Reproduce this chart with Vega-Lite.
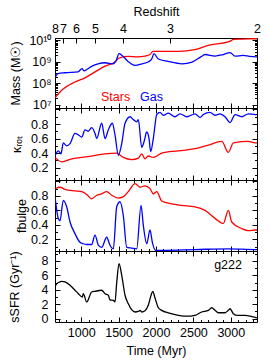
{
  "$schema": "https://vega.github.io/schema/vega-lite/v6.json",
  "padding": {"left": 7, "top": 4, "right": 5, "bottom": 5},
  "spacing": 0,
  "bounds": "flush",
  "config": {
    "font": "Liberation Sans",
    "view": {"stroke": "black", "strokeWidth": 1},
    "axis": {"labelFont": "Liberation Sans", "labelFontSize": 12.5, "labelColor": "black", "titleFont": "Liberation Sans", "titleFontSize": 12.5, "titleFontWeight": "normal", "titleColor": "black", "domain": false, "grid": false, "tickColor": "black", "tickWidth": 1, "labelOverlap": false, "labelFlush": false, "labelBound": false}
  },
  "datasets": {
    "starsMass": [
      {"t":650,"m":2.1e7},{"t":740,"m":4.7e7},{"t":917,"m":1.15e8},{"t":1051,"m":1.8e8},{"t":1185,"m":3.4e8},{"t":1319,"m":6.3e8},{"t":1430,"m":8.9e8},{"t":1452,"m":1.0e9},{"t":1492,"m":1.4e9},{"t":1542,"m":1.65e9},{"t":1626,"m":1.8e9},{"t":1760,"m":1.7e9},{"t":1853,"m":1.85e9},{"t":1920,"m":2.2e9},{"t":1960,"m":3.1e9},{"t":2100,"m":3.1e9},{"t":2295,"m":3.1e9},{"t":2522,"m":3.7e9},{"t":2696,"m":5.9e9},{"t":2963,"m":8.5e9},{"t":3000,"m":9.5e9},{"t":3030,"m":1.12e10},{"t":3150,"m":1.15e10},{"t":3324,"m":1.2e10},{"t":3350,"m":1.2e10}
    ],
    "gasMass": [
      {"t":650,"m":1.8e8},{"t":690,"m":2.8e8},{"t":784,"m":3.1e8},{"t":958,"m":3.4e8},{"t":1011,"m":4.8e8},{"t":1040,"m":3.8e8},{"t":1070,"m":4.3e8},{"t":1145,"m":6.3e8},{"t":1225,"m":8.1e8},{"t":1319,"m":9.1e8},{"t":1425,"m":8.1e8},{"t":1470,"m":1.2e9},{"t":1506,"m":2.4e9},{"t":1546,"m":2.0e9},{"t":1626,"m":1.05e9},{"t":1720,"m":6.8e8},{"t":1813,"m":8.1e8},{"t":1893,"m":9.8e8},{"t":1940,"m":1.3e9},{"t":1974,"m":2.4e9},{"t":2027,"m":1.4e9},{"t":2161,"m":1.05e9},{"t":2348,"m":8.1e8},{"t":2482,"m":9.8e8},{"t":2600,"m":1.7e9},{"t":2656,"m":2.2e9},{"t":2789,"m":1.85e9},{"t":2900,"m":2.2e9},{"t":2990,"m":2.7e9},{"t":3057,"m":1.85e9},{"t":3164,"m":2.0e9},{"t":3250,"m":1.8e9},{"t":3350,"m":1.7e9}
    ],
    "massLabels": [
      {"t":1265,"m":2.3e7,"label":"Stars"},{"t":1786,"m":2.3e7,"label":"Gas"}
    ],
    "starsKappa": [
      {"t":650,"k":0.34},{"t":740,"k":0.28},{"t":873,"k":0.32},{"t":1095,"k":0.35},{"t":1319,"k":0.39},{"t":1475,"k":0.40},{"t":1563,"k":0.34},{"t":1675,"k":0.31},{"t":1764,"k":0.33},{"t":1809,"k":0.39},{"t":1853,"k":0.32},{"t":1897,"k":0.36},{"t":1964,"k":0.34},{"t":2076,"k":0.40},{"t":2299,"k":0.43},{"t":2522,"k":0.46},{"t":2700,"k":0.51},{"t":2879,"k":0.56},{"t":2967,"k":0.41},{"t":3034,"k":0.54},{"t":3235,"k":0.56},{"t":3324,"k":0.54},{"t":3350,"k":0.54}
    ],
    "gasKappa": [
      {"t":650,"k":0.36},{"t":694,"k":0.43},{"t":730,"k":0.39},{"t":761,"k":0.54},{"t":806,"k":0.50},{"t":851,"k":0.53},{"t":917,"k":0.67},{"t":962,"k":0.65},{"t":1007,"k":0.62},{"t":1051,"k":0.72},{"t":1095,"k":0.70},{"t":1140,"k":0.75},{"t":1185,"k":0.67},{"t":1207,"k":0.60},{"t":1274,"k":0.81},{"t":1319,"k":0.60},{"t":1363,"k":0.72},{"t":1416,"k":0.81},{"t":1452,"k":0.65},{"t":1497,"k":0.37},{"t":1542,"k":0.53},{"t":1586,"k":0.81},{"t":1653,"k":0.90},{"t":1697,"k":0.86},{"t":1742,"k":0.83},{"t":1764,"k":0.86},{"t":1809,"k":0.48},{"t":1844,"k":0.57},{"t":1876,"k":0.69},{"t":1907,"k":0.60},{"t":1929,"k":0.42},{"t":1964,"k":0.60},{"t":2010,"k":0.93},{"t":2054,"k":0.96},{"t":2098,"k":0.92},{"t":2165,"k":0.95},{"t":2254,"k":0.90},{"t":2321,"k":0.94},{"t":2411,"k":0.90},{"t":2522,"k":0.94},{"t":2589,"k":0.89},{"t":2633,"k":0.93},{"t":2722,"k":0.96},{"t":2789,"k":0.92},{"t":2856,"k":0.94},{"t":2923,"k":0.90},{"t":2990,"k":0.82},{"t":3057,"k":0.93},{"t":3146,"k":0.90},{"t":3235,"k":0.94},{"t":3324,"k":0.93},{"t":3350,"k":0.93}
    ],
    "starsBulge": [
      {"t":650,"f":0.90},{"t":717,"f":0.92},{"t":784,"f":0.89},{"t":917,"f":0.87},{"t":1007,"f":0.86},{"t":1074,"f":0.82},{"t":1140,"f":0.76},{"t":1207,"f":0.81},{"t":1274,"f":0.83},{"t":1341,"f":0.86},{"t":1408,"f":0.81},{"t":1497,"f":0.77},{"t":1563,"f":0.79},{"t":1630,"f":0.86},{"t":1720,"f":0.97},{"t":1787,"f":0.92},{"t":1853,"f":0.94},{"t":1920,"f":0.90},{"t":1964,"f":0.83},{"t":2010,"f":0.86},{"t":2076,"f":0.73},{"t":2210,"f":0.69},{"t":2344,"f":0.67},{"t":2522,"f":0.65},{"t":2656,"f":0.60},{"t":2789,"f":0.49},{"t":2900,"f":0.42},{"t":2967,"f":0.60},{"t":3012,"f":0.44},{"t":3146,"f":0.35},{"t":3235,"f":0.32},{"t":3324,"f":0.33},{"t":3350,"f":0.33}
    ],
    "gasBulge": [
      {"t":650,"f":0.79},{"t":694,"f":0.49},{"t":717,"f":0.46},{"t":761,"f":0.74},{"t":806,"f":0.65},{"t":851,"f":0.44},{"t":917,"f":0.28},{"t":984,"f":0.16},{"t":1028,"f":0.14},{"t":1074,"f":0.13},{"t":1140,"f":0.13},{"t":1185,"f":0.26},{"t":1229,"f":0.12},{"t":1274,"f":0.09},{"t":1341,"f":0.23},{"t":1385,"f":0.12},{"t":1430,"f":0.07},{"t":1475,"f":0.65},{"t":1519,"f":0.72},{"t":1563,"f":0.53},{"t":1609,"f":0.09},{"t":1675,"f":0.08},{"t":1742,"f":0.07},{"t":1800,"f":0.67},{"t":1831,"f":0.39},{"t":1876,"f":0.14},{"t":1920,"f":0.33},{"t":1951,"f":0.16},{"t":1996,"f":0.05},{"t":2076,"f":0.05},{"t":2522,"f":0.06},{"t":2967,"f":0.07},{"t":3324,"f":0.06},{"t":3350,"f":0.06}
    ],
    "ssfr": [
      {"t":650,"s":4.38},{"t":673,"s":4.84},{"t":717,"s":5.08},{"t":740,"s":5.17},{"t":784,"s":5.08},{"t":851,"s":4.62},{"t":917,"s":3.93},{"t":962,"s":3.46},{"t":1015,"s":3.00},{"t":1028,"s":3.46},{"t":1074,"s":2.31},{"t":1140,"s":3.69},{"t":1185,"s":3.79},{"t":1274,"s":3.93},{"t":1319,"s":3.46},{"t":1363,"s":3.24},{"t":1385,"s":2.60},{"t":1430,"s":2.54},{"t":1452,"s":2.31},{"t":1475,"s":5.0},{"t":1506,"s":7.61},{"t":1542,"s":6.0},{"t":1586,"s":3.24},{"t":1630,"s":2.07},{"t":1675,"s":1.25},{"t":1720,"s":0.93},{"t":1764,"s":1.00},{"t":1787,"s":1.16},{"t":1809,"s":0.93},{"t":1853,"s":1.10},{"t":1897,"s":1.85},{"t":1934,"s":3.24},{"t":1956,"s":3.79},{"t":1987,"s":2.86},{"t":2031,"s":1.52},{"t":2076,"s":1.16},{"t":2165,"s":0.80},{"t":2299,"s":0.47},{"t":2411,"s":0.35},{"t":2522,"s":0.47},{"t":2611,"s":0.93},{"t":2700,"s":1.16},{"t":2745,"s":1.52},{"t":2789,"s":1.16},{"t":2834,"s":0.83},{"t":2923,"s":0.83},{"t":2967,"s":1.16},{"t":2990,"s":1.38},{"t":3034,"s":0.69},{"t":3079,"s":0.47},{"t":3190,"s":0.47},{"t":3350,"s":0.12}
    ],
    "ssfrLabel": [{"t":2963,"s":7.45,"label":"g222"}]
  },
  "vconcat": [
    {
      "width": 202, "height": 70,
      "layer": [
        {
          "data": {"name": "starsMass"},
          "mark": {"type": "line", "color": "#ff0000", "strokeWidth": 1.3, "clip": true, "interpolate": "monotone"},
          "encoding": {
            "x": {"field": "t", "type": "quantitative", "scale": {"domain": [650, 3350], "nice": false, "zero": false},
                  "axis": {"orient": "bottom", "values": [700,800,900,1000,1100,1200,1300,1400,1500,1600,1700,1800,1900,2000,2100,2200,2300,2400,2500,2600,2700,2800,2900,3000,3100,3200,3300], "labels": false, "title": null, "tickSize": {"condition": {"test": "datum.value % 500 === 0", "value": -5}, "value": -2.5}}},
            "y": {"field": "m", "type": "quantitative", "scale": {"type": "log", "domain": [7e6, 1.3e10], "nice": false},
                  "axis": {"orient": "left", "title": "Mass  (M☉)", "titlePadding": 6, "labelPadding": 9,
                           "values": [1e7,2e7,3e7,4e7,5e7,6e7,7e7,8e7,9e7,1e8,2e8,3e8,4e8,5e8,6e8,7e8,8e8,9e8,1e9,2e9,3e9,4e9,5e9,6e9,7e9,8e9,9e9,1e10],
                           "labelExpr": "abs(log(datum.value)/LN10 - round(log(datum.value)/LN10)) < 1e-6 ? '10' + ['⁷','⁸','⁹','¹⁰'][round(log(datum.value)/LN10) - 7] : ''",
                           "tickSize": {"condition": {"test": "abs(log(datum.value)/LN10 - round(log(datum.value)/LN10)) < 1e-6", "value": -5}, "value": -2.5}}}
          }
        },
        {
          "data": {"name": "gasMass"},
          "mark": {"type": "line", "color": "#0000ff", "strokeWidth": 1.3, "clip": true, "interpolate": "monotone"},
          "encoding": {
            "x": {"field": "t", "type": "quantitative",
                  "axis": {"orient": "top", "values": [650,757,931,1185,1559,2188,3350], "title": "Redshift", "titlePadding": 4, "labelPadding": 8, "tickSize": -5,
                           "labelExpr": "['8','7','6','5','4','3','2'][indexof([650,757,931,1185,1559,2188,3350], datum.value)]"}},
            "y": {"field": "m", "type": "quantitative",
                  "axis": {"orient": "right", "labels": false, "title": null,
                           "values": [1e7,2e7,3e7,4e7,5e7,6e7,7e7,8e7,9e7,1e8,2e8,3e8,4e8,5e8,6e8,7e8,8e8,9e8,1e9,2e9,3e9,4e9,5e9,6e9,7e9,8e9,9e9,1e10],
                           "tickSize": {"condition": {"test": "abs(log(datum.value)/LN10 - round(log(datum.value)/LN10)) < 1e-6", "value": -5}, "value": -2.5}}}
          }
        },
        {
          "data": {"name": "massLabels"},
          "mark": {"type": "text", "fontSize": 12.5, "font": "Liberation Sans", "align": "left", "baseline": "middle"},
          "encoding": {
            "x": {"field": "t", "type": "quantitative", "axis": null},
            "y": {"field": "m", "type": "quantitative", "axis": null},
            "text": {"field": "label"},
            "color": {"field": "label", "type": "nominal", "scale": {"domain": ["Stars", "Gas"], "range": ["#ff0000", "#0000ff"]}, "legend": null}
          }
        }
      ],
      "resolve": {"axis": {"x": "independent", "y": "independent"}}
    },
    {
      "width": 202, "height": 72,
      "layer": [
        {
          "data": {"name": "starsKappa"},
          "mark": {"type": "line", "color": "#ff0000", "strokeWidth": 1.3, "clip": true, "interpolate": "monotone"},
          "encoding": {
            "x": {"field": "t", "type": "quantitative", "scale": {"domain": [650, 3350], "nice": false, "zero": false},
                  "axis": {"orient": "bottom", "values": [700,800,900,1000,1100,1200,1300,1400,1500,1600,1700,1800,1900,2000,2100,2200,2300,2400,2500,2600,2700,2800,2900,3000,3100,3200,3300], "labels": false, "title": null, "tickSize": {"condition": {"test": "datum.value % 500 === 0", "value": -5}, "value": -2.5}}},
            "y": {"field": "k", "type": "quantitative", "scale": {"domain": [0.03, 1.02], "nice": false, "zero": false},
                  "axis": {"orient": "left", "title": "κᵣₒₜ", "titlePadding": 7, "labelPadding": 12,
                           "values": [0.1,0.2,0.3,0.4,0.5,0.6,0.7,0.8,0.9,1.0],
                           "labelExpr": "round(datum.value*10) % 2 === 0 && datum.value < 0.95 ? format(datum.value, '.1f') : ''",
                           "tickSize": {"condition": {"test": "round(datum.value*10) % 2 === 0", "value": -5}, "value": -2.5}}}
          }
        },
        {
          "data": {"name": "gasKappa"},
          "mark": {"type": "line", "color": "#0000ff", "strokeWidth": 1.3, "clip": true, "interpolate": "monotone"},
          "encoding": {
            "x": {"field": "t", "type": "quantitative",
                  "axis": {"orient": "top", "values": [700,800,900,1000,1100,1200,1300,1400,1500,1600,1700,1800,1900,2000,2100,2200,2300,2400,2500,2600,2700,2800,2900,3000,3100,3200,3300], "labels": false, "title": null, "tickSize": {"condition": {"test": "datum.value % 500 === 0", "value": -5}, "value": -2.5}}},
            "y": {"field": "k", "type": "quantitative",
                  "axis": {"orient": "right", "labels": false, "title": null,
                           "values": [0.1,0.2,0.3,0.4,0.5,0.6,0.7,0.8,0.9,1.0],
                           "tickSize": {"condition": {"test": "round(datum.value*10) % 2 === 0", "value": -5}, "value": -2.5}}}
          }
        }
      ],
      "resolve": {"axis": {"x": "independent", "y": "independent"}}
    },
    {
      "width": 202, "height": 71,
      "layer": [
        {
          "data": {"name": "starsBulge"},
          "mark": {"type": "line", "color": "#ff0000", "strokeWidth": 1.3, "clip": true, "interpolate": "monotone"},
          "encoding": {
            "x": {"field": "t", "type": "quantitative", "scale": {"domain": [650, 3350], "nice": false, "zero": false},
                  "axis": {"orient": "bottom", "values": [700,800,900,1000,1100,1200,1300,1400,1500,1600,1700,1800,1900,2000,2100,2200,2300,2400,2500,2600,2700,2800,2900,3000,3100,3200,3300], "labels": false, "title": null, "tickSize": {"condition": {"test": "datum.value % 500 === 0", "value": -5}, "value": -2.5}}},
            "y": {"field": "f", "type": "quantitative", "scale": {"domain": [0.04, 1.02], "nice": false, "zero": false},
                  "axis": {"orient": "left", "title": "fbulge", "titlePadding": 2, "labelPadding": 12,
                           "values": [0.1,0.2,0.3,0.4,0.5,0.6,0.7,0.8,0.9,1.0],
                           "labelExpr": "round(datum.value*10) % 2 === 0 && datum.value < 0.95 ? format(datum.value, '.1f') : ''",
                           "tickSize": {"condition": {"test": "round(datum.value*10) % 2 === 0", "value": -5}, "value": -2.5}}}
          }
        },
        {
          "data": {"name": "gasBulge"},
          "mark": {"type": "line", "color": "#0000ff", "strokeWidth": 1.3, "clip": true, "interpolate": "monotone"},
          "encoding": {
            "x": {"field": "t", "type": "quantitative",
                  "axis": {"orient": "top", "values": [700,800,900,1000,1100,1200,1300,1400,1500,1600,1700,1800,1900,2000,2100,2200,2300,2400,2500,2600,2700,2800,2900,3000,3100,3200,3300], "labels": false, "title": null, "tickSize": {"condition": {"test": "datum.value % 500 === 0", "value": -5}, "value": -2.5}}},
            "y": {"field": "f", "type": "quantitative",
                  "axis": {"orient": "right", "labels": false, "title": null,
                           "values": [0.1,0.2,0.3,0.4,0.5,0.6,0.7,0.8,0.9,1.0],
                           "tickSize": {"condition": {"test": "round(datum.value*10) % 2 === 0", "value": -5}, "value": -2.5}}}
          }
        }
      ],
      "resolve": {"axis": {"x": "independent", "y": "independent"}}
    },
    {
      "width": 202, "height": 71,
      "layer": [
        {
          "data": {"name": "ssfr"},
          "mark": {"type": "line", "color": "black", "strokeWidth": 1.3, "clip": true, "interpolate": "monotone"},
          "encoding": {
            "x": {"field": "t", "type": "quantitative", "scale": {"domain": [650, 3350], "nice": false, "zero": false},
                  "axis": {"orient": "bottom", "values": [700,800,900,1000,1100,1200,1300,1400,1500,1600,1700,1800,1900,2000,2100,2200,2300,2400,2500,2600,2700,2800,2900,3000,3100,3200,3300], "title": "Time  (Myr)", "titlePadding": 3, "labelPadding": 9,
                           "labelExpr": "datum.value % 500 === 0 ? datum.value : ''",
                           "tickSize": {"condition": {"test": "datum.value % 500 === 0", "value": -5}, "value": -2.5}}},
            "y": {"field": "s", "type": "quantitative", "scale": {"domain": [-0.45, 9.35], "nice": false, "zero": false},
                  "axis": {"orient": "left", "title": "sSFR (Gyr⁻¹)", "titlePadding": 20, "labelPadding": 12,
                           "values": [0,1,2,3,4,5,6,7,8,9],
                           "labelExpr": "datum.value % 2 === 0 ? datum.value : ''",
                           "tickSize": {"condition": {"test": "datum.value % 2 === 0", "value": -5}, "value": -2.5}}}
          }
        },
        {
          "data": {"name": "ssfrLabel"},
          "mark": {"type": "text", "fontSize": 12.5, "font": "Liberation Sans", "align": "center", "baseline": "middle", "color": "black"},
          "encoding": {
            "x": {"field": "t", "type": "quantitative",
                  "axis": {"orient": "top", "values": [700,800,900,1000,1100,1200,1300,1400,1500,1600,1700,1800,1900,2000,2100,2200,2300,2400,2500,2600,2700,2800,2900,3000,3100,3200,3300], "labels": false, "title": null, "tickSize": {"condition": {"test": "datum.value % 500 === 0", "value": -5}, "value": -2.5}}},
            "y": {"field": "s", "type": "quantitative",
                  "axis": {"orient": "right", "labels": false, "title": null,
                           "values": [0,1,2,3,4,5,6,7,8,9],
                           "tickSize": {"condition": {"test": "datum.value % 2 === 0", "value": -5}, "value": -2.5}}},
            "text": {"field": "label"}
          }
        }
      ],
      "resolve": {"axis": {"x": "independent", "y": "independent"}}
    }
  ]
}
